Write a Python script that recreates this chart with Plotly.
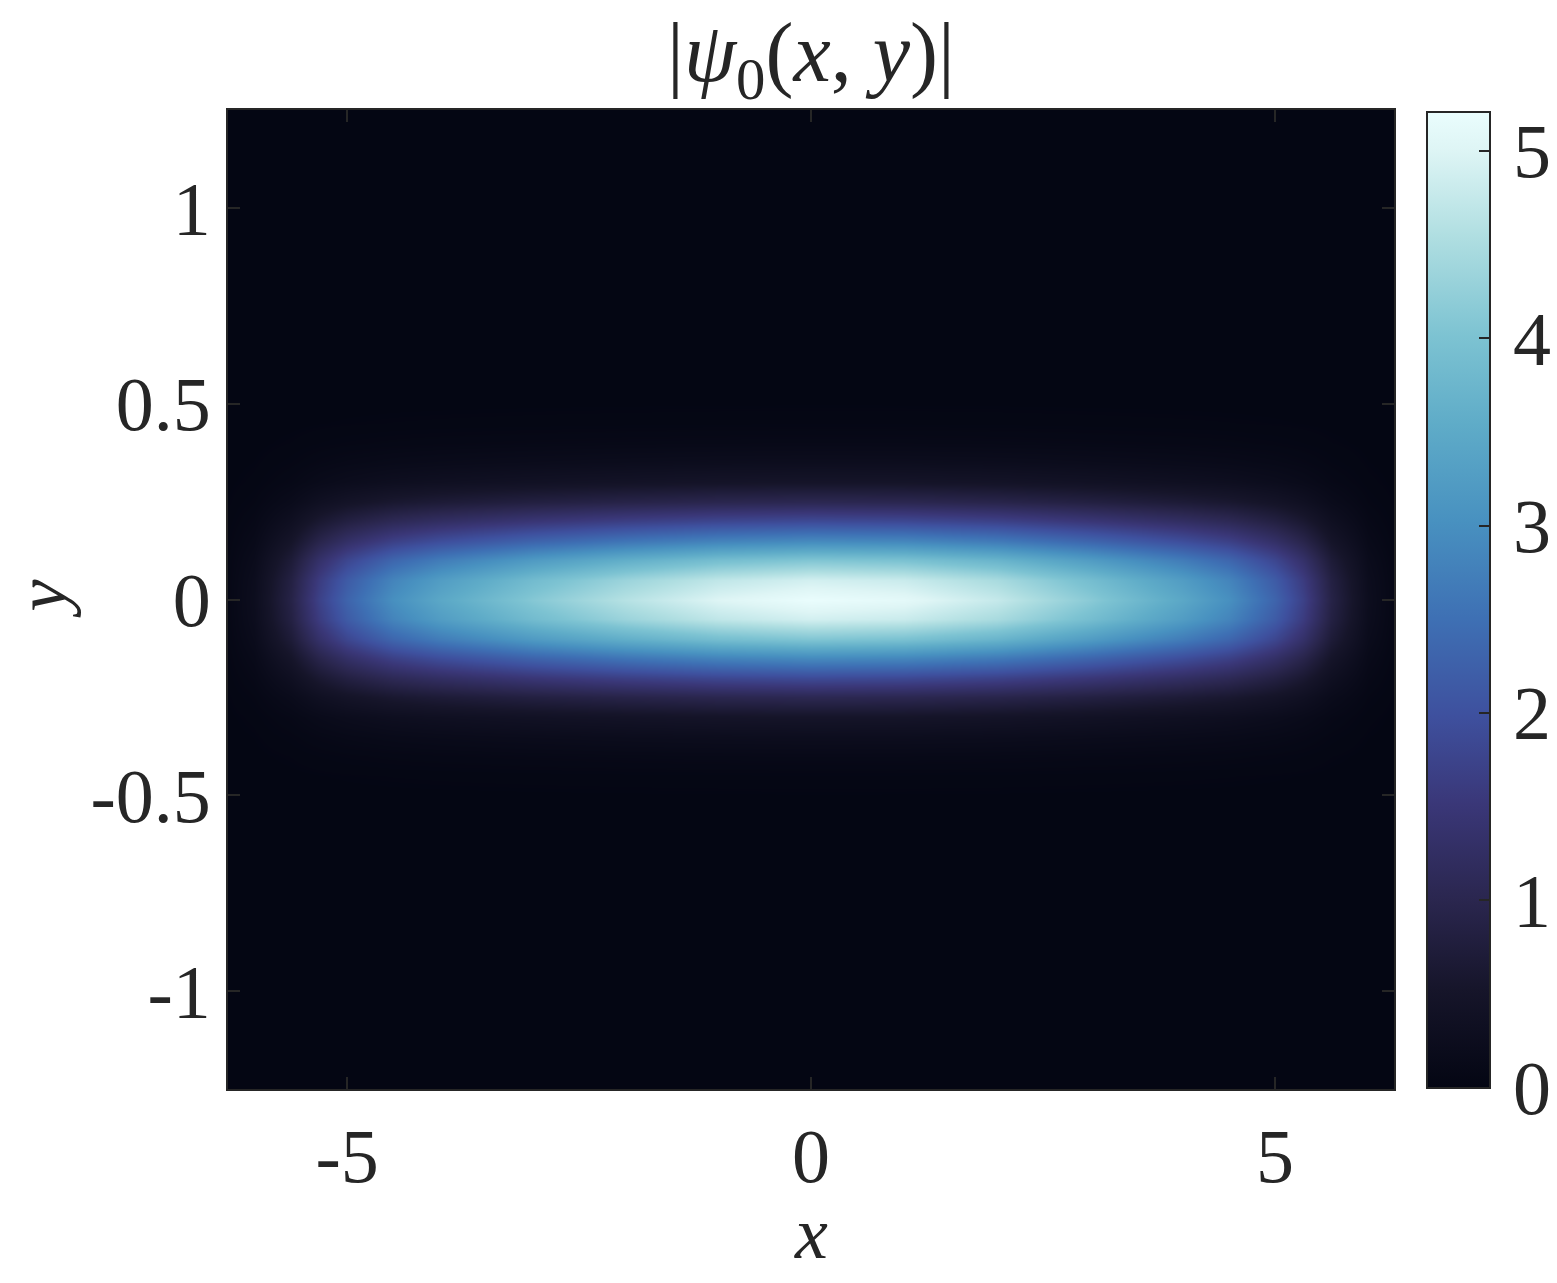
import numpy as np
import plotly.graph_objects as go

# x sample positions and |psi0| along y = 0
x_pts = [-6.3, -6.0, -5.6, -5.3, -5.0, -4.5, -4.0, -3.0, -2.0, -1.0, 0.0,
         1.0, 2.0, 3.0, 4.0, 4.5, 5.0, 5.3, 5.6, 6.0, 6.3]
psi_y0 = [0.05, 0.25, 0.9, 1.7, 2.3, 3.0, 3.45, 4.1, 4.6, 5.0, 5.2,
          5.1, 4.75, 4.15, 3.45, 3.0, 2.3, 1.7, 0.9, 0.25, 0.05]

# y sample positions and relative transverse profile
y_pts = [-1.25, -0.6, -0.5, -0.45, -0.4, -0.35, -0.3, -0.25, -0.2, -0.15, -0.1, -0.05, 0.0,
         0.05, 0.1, 0.15, 0.2, 0.25, 0.3, 0.35, 0.4, 0.45, 0.5, 0.6, 1.25]
rel_y = [0.0, 0.0002, 0.002, 0.006, 0.02, 0.047, 0.095, 0.2, 0.36, 0.56, 0.78, 0.94, 1.0,
         0.94, 0.78, 0.56, 0.36, 0.2, 0.095, 0.047, 0.02, 0.006, 0.002, 0.0002, 0.0]

x_ticks = [-5, 0, 5]
x_ticktext = ["-5", "0", "5"]
y_ticks = [-1, -0.5, 0, 0.5, 1]
y_ticktext = ["-1", "-0.5", "0", "0.5", "1"]
c_ticks = [0, 1, 2, 3, 4, 5]
c_ticktext = ["0", "1", "2", "3", "4", "5"]

z = np.outer(np.array(rel_y), np.array(psi_y0))

ice = [
    [0.00, "rgb(4,6,19)"],
    [0.10, "rgb(22,21,42)"],
    [0.19, "rgb(42,38,78)"],
    [0.29, "rgb(58,55,120)"],
    [0.38, "rgb(62,80,158)"],
    [0.48, "rgb(62,112,180)"],
    [0.58, "rgb(72,145,192)"],
    [0.68, "rgb(95,172,200)"],
    [0.77, "rgb(125,195,210)"],
    [0.87, "rgb(175,222,225)"],
    [0.96, "rgb(222,245,245)"],
    [1.00, "rgb(234,253,253)"],
]

FONT = "Liberation Serif"
FS = 76
INK = "#262626"
SP = "\u200a"

fig = go.Figure(go.Heatmap(
    x=x_pts, y=y_pts, z=z, zsmooth="best",
    colorscale=ice, zmin=0, zmax=5.21,
    colorbar=dict(
        x=1.0283, xanchor="left", xref="paper",
        y=0.5, yanchor="middle", len=0.997, lenmode="fraction",
        thickness=63, thicknessmode="pixels",
        outlinecolor=INK, outlinewidth=2,
        tickvals=c_ticks, ticktext=[SP + t for t in c_ticktext],
        ticks="inside", ticklen=12, tickcolor=INK, tickwidth=2,
        tickfont=dict(family=FONT, size=FS, color=INK),
        ypad=0, xpad=0,
    ),
    hoverinfo="skip",
))

fig.update_layout(
    width=1557, height=1283,
    margin=dict(l=228, r=163, t=110, b=194, autoexpand=False),
    paper_bgcolor="white", plot_bgcolor="rgb(4,6,19)",
    title=dict(
        text="|<i>ψ</i><sub>0</sub>(<i>x</i>, <i>y</i>)|",
        x=0.5, xanchor="center", xref="paper",
        y=1 - 52 / 1283, yanchor="middle", yref="container",
        font=dict(family=FONT, size=84, color=INK),
    ),
    xaxis=dict(
        range=[-2 * np.pi, 2 * np.pi], tickvals=x_ticks, ticktext=x_ticktext,
        ticks="inside", ticklen=12, tickwidth=2, tickcolor=INK,
        showline=True, linecolor=INK, linewidth=2, mirror="ticks",
        showgrid=False, zeroline=False, automargin=False,
        tickfont=dict(family=FONT, size=FS, color=INK),
    ),
    yaxis=dict(
        range=[-1.25, 1.25], tickvals=y_ticks, ticktext=y_ticktext,
        ticks="inside", ticklen=12, tickwidth=2, tickcolor=INK,
        showline=True, linecolor=INK, linewidth=2, mirror="ticks",
        showgrid=False, zeroline=False, automargin=False,
        tickfont=dict(family=FONT, size=FS, color=INK),
    ),
    annotations=[
        dict(text="<i>x</i>", xref="paper", yref="paper", x=0.5, y=-(1190 - 1089) / 979,
             xanchor="center", yanchor="top", showarrow=False,
             font=dict(family=FONT, size=74, color=INK)),
        dict(text="<i>y</i>", xref="paper", yref="paper", x=(41 - 228) / 1166, y=0.5,
             xanchor="center", yanchor="middle", showarrow=False, textangle=-90,
             font=dict(family=FONT, size=72, color=INK)),
    ],
)

fig.write_html("out.html", config={"displayModeBar": False},
               post_script="document.body.style.margin='0px';")
